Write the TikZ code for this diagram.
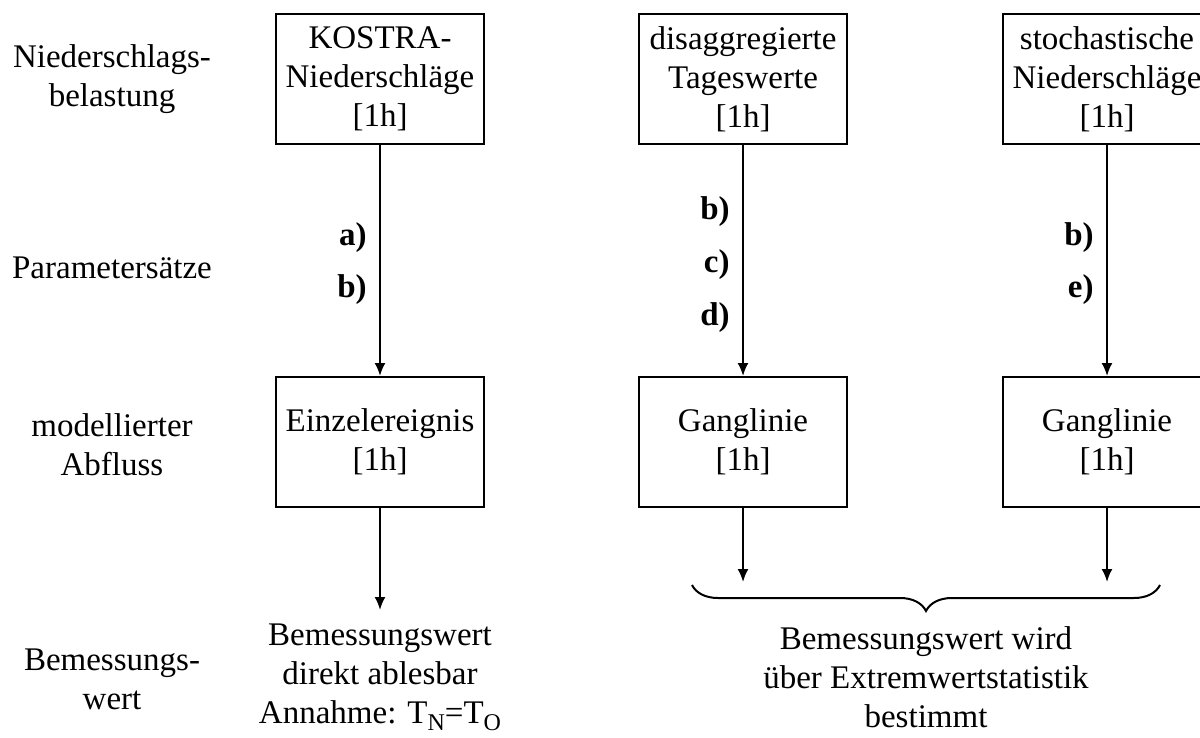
\documentclass[tikz,border=0pt]{standalone}
\usepackage{fontspec}
\setmainfont{Liberation Serif}
\usetikzlibrary{arrows.meta,decorations.pathreplacing}

\newcommand{\lowsub}[1]{\raisebox{-0.45ex}{\fontsize{12}{12}\selectfont #1}}

\begin{document}
\begin{tikzpicture}[x=0.5pt,y=-0.5pt,
    font=\fontsize{16.5}{19.5}\selectfont,
    box/.style={draw,line width=1pt,minimum width=104pt,minimum height=65pt,align=center,inner sep=0pt},
    txt/.style={align=center,inner sep=0pt},
    lbl/.style={font=\fontsize{16.5}{19.5}\selectfont\bfseries,anchor=east,inner sep=0pt},
    arr/.style={-{Latex[length=6.5pt,width=5.5pt]},line width=1pt}]
    \useasboundingbox (0,0) rectangle (1200,738);

    % row titles
    \node[txt] (t1) at (112,79) {Niederschlags-\\belastung};
    \node[txt] (t2) at (112,268) {Parameters\"atze};
    \node[txt] (t3) at (112,445) {modellierter\\Abfluss};
    \node[txt] (t4) at (112,679) {Bemessungs-\\wert};

    % boxes
    \node[box] (kostra) at (380,79) {KOSTRA-\\Niederschl\"age\\{[1h]}};
    \node[box] (einzel) at (380,442) {Einzelereignis\\{[1h]}};
    \node[box] (tage) at (743,79) {disaggregierte\\Tageswerte\\{[1h]}};
    \node[box] (gang1) at (743,442) {Ganglinie\\{[1h]}};
    \node[box] (stoch) at (1107,79) {stochastische\\Niederschl\"age\\{[1h]}};
    \node[box] (gang2) at (1107,442) {Ganglinie\\{[1h]}};

    \draw[arr] (kostra) -- (einzel);
    \draw[arr] (tage) -- (gang1);
    \draw[arr] (stoch) -- (gang2);

    % parameter sets
    \node[lbl] (pa) at (367,238) {a)};
    \node[lbl] (pb) at (367,290) {b)};
    \node[lbl] (qb) at (730,212) {b)};
    \node[lbl] (qc) at (730,265) {c)};
    \node[lbl] (qd) at (730,318) {d)};
    \node[lbl] (sb) at (1094,238) {b)};
    \node[lbl] (se) at (1094,290) {e)};

    % results
    \coordinate (e1) at (380,610);
    \coordinate (e2) at (743,582);
    \coordinate (e3) at (1107,582);
    \draw[arr] (einzel) -- (e1);
    \draw[arr] (gang1) -- (e2);
    \draw[arr] (gang2) -- (e3);

    \coordinate (bl) at (692,585);
    \coordinate (br) at (1160,585);
    \draw[decorate,decoration={brace,mirror,amplitude=13pt},line width=1pt] (bl) -- (br);

    \node[txt] (w1) at (380,677) {Bemessungswert\\direkt ablesbar\\Annahme: T\lowsub{N}=T\lowsub{O}};
    \node[txt] (w2) at (926,677) {Bemessungswert wird\\\"uber Extremwertstatistik\\bestimmt};
\end{tikzpicture}
\end{document}
